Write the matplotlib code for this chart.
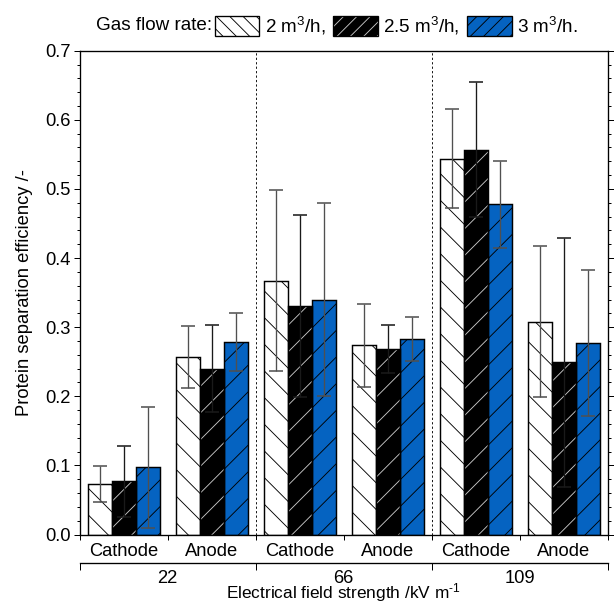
import numpy as np
import matplotlib
matplotlib.use("Agg")
import matplotlib.pyplot as plt
from matplotlib.patches import Patch
from matplotlib.legend_handler import HandlerTuple

plt.rcParams['font.family'] = ['Liberation Sans', 'DejaVu Sans']
plt.rcParams['mathtext.fontset'] = 'custom'
plt.rcParams['mathtext.rm'] = 'Liberation Sans'
plt.rcParams['mathtext.default'] = 'regular'
plt.rcParams['hatch.linewidth'] = 0.8

# data
categories = ['Cathode', 'Anode', 'Cathode', 'Anode', 'Cathode', 'Anode']
field_groups = ['22', '66', '109']
series_labels = ['2 m$^3$/h,', '2.5 m$^3$/h,', '3 m$^3$/h.']
eff_2 = [0.073, 0.257, 0.367, 0.274, 0.544, 0.308]
err_2 = [0.026, 0.045, 0.131, 0.060, 0.071, 0.109]
eff_25 = [0.077, 0.240, 0.331, 0.268, 0.557, 0.249]
err_25 = [0.051, 0.063, 0.132, 0.035, 0.098, 0.180]
eff_3 = [0.097, 0.278, 0.340, 0.283, 0.478, 0.277]
err_3 = [0.087, 0.042, 0.139, 0.032, 0.063, 0.106]

BLUE = '#0563c1'
FS = 16.5

W, H, DPI = 614, 606, 80
fig = plt.figure(figsize=(W / DPI, H / DPI), dpi=DPI)
ax = fig.add_axes([79.7 / W, 1 - 534.5 / H, (607.7 - 79.7) / W, (534.5 - 50.7) / H])

x = np.arange(1, len(categories) + 1)
bw = 0.274

# white bars, black "\" hatch
ax.bar(x - bw, eff_2, bw, color='white', edgecolor='black', hatch='\\', lw=1.3, zorder=2)
# black bars with light hatch: fill+hatch first, then black outline
ax.bar(x, eff_25, bw, color='black', edgecolor='#c8c8c8', hatch='/', lw=0, zorder=2)
ax.bar(x, eff_25, bw, fill=False, edgecolor='black', lw=1.3, zorder=2.1)
# blue bars
ax.bar(x + bw, eff_3, bw, color=BLUE, edgecolor='black', hatch='/', lw=1.3, zorder=2)

ekw = dict(fmt='none', capsize=6, elinewidth=1.2, capthick=1.4, zorder=3)
ax.errorbar(x - bw, eff_2, yerr=err_2, ecolor='#505050', **ekw)
ax.errorbar(x, eff_25, yerr=err_25, ecolor='#1a1a1a', **ekw)
ax.errorbar(x + bw, eff_3, yerr=err_3, ecolor='#505050', **ekw)

for xv in [2.5, 4.5]:
    ax.axvline(xv, color='black', lw=0.8, ls=(0, (2.5, 2.5)), zorder=1)

ax.set_xlim(0.5, 6.5)
ax.set_ylim(0, 0.7)
ax.set_yticks(np.arange(0, 0.71, 0.1))
ax.set_yticklabels([f'{v:.1f}' for v in np.arange(0, 0.71, 0.1)])
ax.set_yticks(np.arange(0, 0.701, 0.02), minor=True)
ax.tick_params(axis='y', which='both', direction='out', right=True, labelsize=FS, width=0.9)
ax.tick_params(axis='y', which='major', length=5.4, pad=2.5)
ax.tick_params(axis='y', which='minor', length=2.7)

ax.set_xticks(np.arange(0.5, 6.6, 1))
ax.set_xticklabels([])
ax.set_xticks(x, minor=True)
ax.set_xticklabels(categories, minor=True)
ax.tick_params(axis='x', which='major', direction='out', length=4.5, width=0.9)
ax.tick_params(axis='x', which='minor', length=0, labelsize=FS, pad=8)
for s in ax.spines.values():
    s.set_linewidth(1.2)

ax.set_ylabel('Protein separation efficiency /-', fontsize=FS, labelpad=11)

# second level of the x axis: field strength groups
sec = ax.secondary_xaxis(-0.058)
sec.set_xticks([0.5, 2.5, 4.5, 6.5])
sec.set_xticklabels([])
sec.set_xticks([1.5, 3.5, 5.5], minor=True)
sec.set_xticklabels(field_groups, minor=True)
sec.tick_params(axis='x', which='major', direction='out', length=6.5, width=0.9)
sec.tick_params(axis='x', which='minor', length=0, labelsize=FS, pad=6.5)
sec.spines['bottom'].set_linewidth(1.2)
fig.text(343.7 / W, 1.5 / H, 'Electrical field strength /kV m$^{\u2010 1}$',
         fontsize=15.5, ha='center', va='bottom')

# legend across the top
fig.text(212 / W, 1 - 26 / H, 'Gas flow rate:', fontsize=FS + 0.5, ha='right', va='center')
h1 = Patch(facecolor='white', edgecolor='black', hatch='\\\\', lw=1.2)
h2 = (Patch(facecolor='black', edgecolor='#c8c8c8', hatch='//', lw=0),
      Patch(fill=False, edgecolor='black', lw=1.2))
h3 = Patch(facecolor=BLUE, edgecolor='black', hatch='//', lw=1.2)
fig.legend([h1, h2, h3], series_labels, ncol=3, loc='center left',
           bbox_to_anchor=(215 / W, 1 - 26 / H), frameon=False, fontsize=FS + 0.5,
           handlelength=2.35, handleheight=1.25, handletextpad=0.3,
           columnspacing=0.4, borderpad=0, borderaxespad=0,
           handler_map={tuple: HandlerTuple(ndivide=1, pad=0)})

fig.savefig('out.png', dpi=DPI)
